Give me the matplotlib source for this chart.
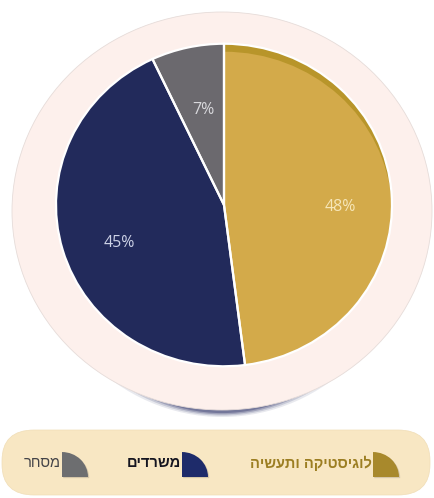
import numpy as np
import matplotlib.pyplot as plt
from matplotlib.patches import Ellipse, Wedge, FancyBboxPatch

# data
labels = ['לוגיסטיקה ותעשיה', 'משרדים', 'מסחר']
shares = [48, 45, 7]
colors = ['#d3aa4a', '#222a5b', '#6b696e']
pct_colors = ['#f6e6b8', '#cdd2e6', '#d8d8dc']
icon_colors = ['#a8892c', '#1e2b6a', '#6d6e70']
legend_text_colors = ['#9c7e22', '#151520', '#444448']
legend_bold = ['semibold', 'bold', 'normal']

W, H = 435, 498
SY = 0.96  # the picture is a bit squashed vertically


def Y(img_y):
    # image pixel row -> data y
    return (H - img_y) / SY


def heb(s):
    # matplotlib has no bidi support, so flip the string to visual order
    return s[::-1]


fig = plt.figure(figsize=(W / 100, H / 100), dpi=100)
ax = fig.add_axes([0, 0, 1, 1])

# background disc with a soft shadow below it
dc, dw, dh = (222, Y(211)), 420, 398 / SY
for i, a in enumerate([0.10, 0.16, 0.25, 0.35]):
    ax.add_patch(Ellipse((dc[0], dc[1] - (7 - i * 1.3) / SY), 380 - i * 8, dh,
                         fc='#262a62', ec='none', alpha=a, zorder=1))
ax.add_patch(Ellipse(dc, dw, dh, fc='#fdf0ec', ec='#e6dcd9', lw=0.6, zorder=2))

# pie
pc, pr = (224, Y(205)), 168
wedges, _ = ax.pie(shares, colors=colors, startangle=90, counterclock=False,
                   center=pc, radius=pr, frame=True,
                   wedgeprops=dict(edgecolor='none', zorder=3))
# darker back of the gold slice, visible along its top
wedges[0].set_facecolor('#b8952a')
front = Wedge((pc[0], pc[1] - 8 / SY), pr, wedges[0].theta1, wedges[0].theta2,
              fc=colors[0], ec='none', zorder=3.5)
ax.add_patch(front)
front.set_clip_path(wedges[0])
for w in wedges:
    ax.add_patch(Wedge(w.center, w.r, w.theta1, w.theta2, fc='none',
                       ec='white', lw=1.6, zorder=4))

# label placement: fraction of radius and angle nudge from the slice middle
dist = [0.69, 0.665, 0.60]
nudge = [-4.6, 4.6, -0.6]
for w, s, d, n, c in zip(wedges, shares, dist, nudge, pct_colors):
    mid = np.deg2rad((w.theta1 + w.theta2) / 2 + n)
    ax.text(pc[0] + d * pr * np.cos(mid), pc[1] + d * pr * np.sin(mid), f'{s}%',
            ha='center', va='center', fontsize=11.5, color=c,
            family=['Open Sans', 'DejaVu Sans'], zorder=5)

# legend pill
ax.add_patch(FancyBboxPatch((2, Y(495)), 428, 65 / SY,
                            boxstyle='round,pad=0,rounding_size=32',
                            fc='#f8e7c3', ec='#f0ddb6', lw=0.5, zorder=2))
icon_x = [373, 182, 62]
for lab, ic, tc, b, x in zip(labels, icon_colors, legend_text_colors, legend_bold, icon_x):
    y0 = Y(477)
    ax.add_patch(Wedge((x + 1.2, y0 - 1.2), 26, 0, 90, fc='#8a7f70', ec='none', alpha=0.3, zorder=3))
    ax.add_patch(Wedge((x, y0), 26, 0, 90, fc=ic, ec='none', zorder=4))
    ax.text(x - 1, Y(463), heb(lab), ha='right', va='center', fontsize=10.5, color=tc,
            fontweight=b, family=['Liberation Sans', 'DejaVu Sans'], zorder=5)

ax.set_xlim(0, W)
ax.set_ylim(0, H / SY)
ax.set_aspect('auto')
ax.axis('off')

fig.savefig('out.png', dpi=100, facecolor='white')
